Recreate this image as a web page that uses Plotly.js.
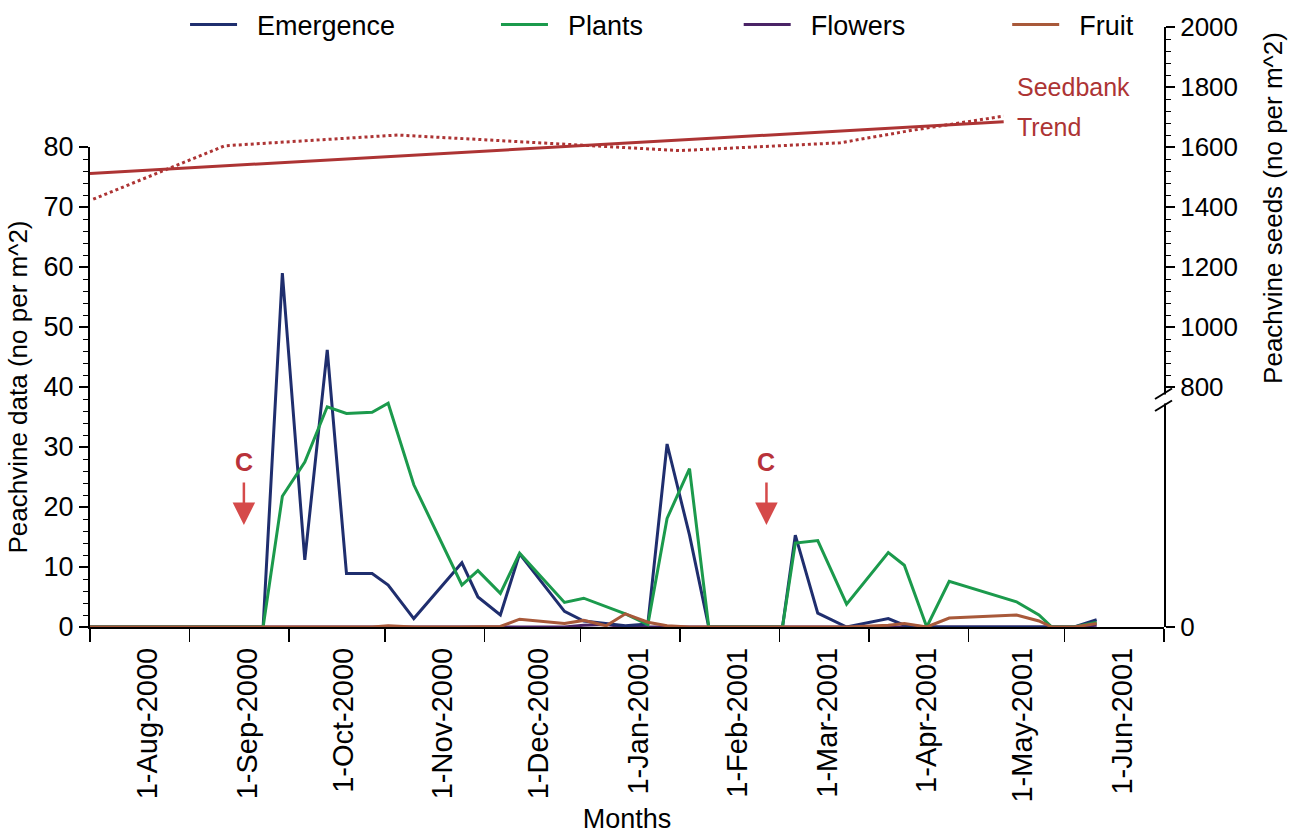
<!DOCTYPE html>
<html>
<head>
<meta charset="utf-8">
<script src="https://cdn.plot.ly/plotly-3.0.1.min.js"></script>
<style>html,body{margin:0;padding:0;background:#fff;}#chart{width:1297px;height:835px;}</style>
</head>
<body>
<div id="chart"></div>
<script>
// ---- data ----
var sampleDates = ['2000-07-01','2000-08-24','2000-08-30','2000-09-06','2000-09-13','2000-09-19','2000-09-27','2000-10-02','2000-10-10','2000-10-25','2000-10-30','2000-11-06','2000-11-12','2000-11-26','2000-12-02','2000-12-09','2000-12-15','2000-12-22','2000-12-28','2001-01-04','2001-01-10','2001-02-02','2001-02-06','2001-02-13','2001-02-22','2001-03-07','2001-03-12','2001-03-19','2001-03-26','2001-04-16','2001-04-23','2001-04-27','2001-05-04','2001-05-11'];
var emergence = [0,0,59,11.2,46.2,8.9,8.9,7,1.4,10.7,5,2,12.2,2.6,1,0.6,0.2,0.5,30.5,15.3,0,0,15.3,2.3,0,1.4,0.3,0,0,0,0,0,0,1.2];
var plants    = [0,0,21.8,27.5,36.7,35.6,35.8,37.3,23.7,7,9.4,5.6,12.3,4.1,4.8,3.4,2.2,0.4,18.1,26.4,0,0,14,14.4,3.8,12.4,10.3,0,7.6,4.2,2,0,0,0.8];
var flowers   = [0,0,0,0,0,0,0,0,0,0,0,0,0,0,0.3,0.4,0,0,0,0,0,0,0,0,0,0,0,0,0,0,0,0,0,0.3];
var fruit     = [0,0,0,0,0,0,0,0.2,0,0,0,0.1,1.3,0.6,1.1,0.2,2.2,0.8,0.2,0,0,0,0,0,0,0.3,0.6,0,1.5,2,1,0,0,0.6];

var seedbankDates = ['2000-07-02','2000-08-12','2000-10-05','2001-01-01','2001-02-20','2001-03-14','2001-04-12'];
var seedbank = [1426,1604,1640,1588,1614,1655,1703];
var trendDates = ['2000-07-01','2001-04-12'];
var trend = [1512,1684];

var cultivationDates = ['2000-08-18','2001-01-28'];

var monthTicks = ['2000-07-01','2000-08-01','2000-09-01','2000-10-01','2000-11-01','2000-12-01','2001-01-01','2001-02-01','2001-03-01','2001-04-01','2001-05-01','2001-06-01'];
var monthLabels = ['1-Aug-2000','1-Sep-2000','1-Oct-2000','1-Nov-2000','1-Dec-2000','1-Jan-2001','1-Feb-2001','1-Mar-2001','1-Apr-2001','1-May-2001','1-Jun-2001'];
var labelMonthStarts = monthTicks.slice(1);
var rightTicks = [0,800,1000,1200,1400,1600,1800,2000];

// ---- helpers ----
function shiftDays(d, n){ var t = new Date(d + 'T00:00:00Z'); t.setUTCDate(t.getUTCDate()+n); return t.toISOString().slice(0,10); }
var labelPositions = labelMonthStarts.map(function(d){ return shiftDays(d,-13); });
var rightMinor = [];
for (var v = 840; v < 2000; v += 40) { if (v % 200 !== 0) rightMinor.push(v); }

var FONT = 'Liberation Sans, Arial, sans-serif';
var RED = '#ad3434';
var SP = '\u00a0\u00a0';

var traces = [
  {x: sampleDates, y: flowers, name: SP + 'Flowers', mode: 'lines', line: {color: '#4a2366', width: 3}, legend: 'legend3', xaxis: 'x', yaxis: 'y'},
  {x: sampleDates, y: emergence, name: SP + 'Emergence', mode: 'lines', line: {color: '#1f2e6e', width: 3}, legend: 'legend', xaxis: 'x', yaxis: 'y'},
  {x: sampleDates, y: plants, name: SP + 'Plants', mode: 'lines', line: {color: '#1b9a4c', width: 3}, legend: 'legend2', xaxis: 'x', yaxis: 'y'},
  {x: sampleDates, y: fruit, name: SP + 'Fruit', mode: 'lines', line: {color: '#a8593a', width: 3}, legend: 'legend4', xaxis: 'x', yaxis: 'y'},
  {x: seedbankDates, y: seedbank, name: 'Seedbank', mode: 'lines', line: {color: RED, width: 3, dash: 'dot'}, showlegend: false, xaxis: 'x', yaxis: 'y2'},
  {x: trendDates, y: trend, name: 'Trend', mode: 'lines', line: {color: RED, width: 3}, showlegend: false, xaxis: 'x', yaxis: 'y2'},
  {x: [], y: [], xaxis: 'x2', yaxis: 'y', showlegend: false, hoverinfo: 'skip', mode: 'lines'}
];

function legendAt(xp){
  return {x: xp, y: 1.0033, xanchor: 'left', yanchor: 'middle', orientation: 'h',
          font: {family: FONT, size: 27, color: '#000'}, bgcolor: 'rgba(0,0,0,0)', itemwidth: 47};
}

var annotations = [
  {xref: 'paper', yref: 'y2', x: 0.861, y: 1800, xanchor: 'left', yanchor: 'middle', text: 'Seedbank', showarrow: false, font: {family: FONT, size: 25, color: RED}},
  {xref: 'paper', yref: 'y2', x: 0.861, y: 1667, xanchor: 'left', yanchor: 'middle', text: 'Trend', showarrow: false, font: {family: FONT, size: 25, color: RED}},
  {xref: 'paper', yref: 'y2', x: 1.1015, y: 1397, xanchor: 'center', yanchor: 'middle', textangle: -90, text: 'Peachvine seeds (no per m^2)', showarrow: false, font: {family: FONT, size: 26, color: '#000'}}
];
cultivationDates.forEach(function(d){
  annotations.push({xref: 'x', yref: 'y', x: d, y: 27.5, text: '<b>C</b>', showarrow: false, font: {family: FONT, size: 25, color: '#b8323a'}});
  annotations.push({xref: 'x', yref: 'y', x: d, y: 17, ax: 0, ay: -44, text: '', showarrow: true, arrowhead: 2, arrowsize: 1.8, arrowwidth: 2.5, arrowcolor: '#d54a4a', standoff: 0});
});

var shapes = [
  {type: 'rect', xref: 'paper', yref: 'y2', x0: 1 - 6/1074, x1: 1 + 6/1074, y0: 745, y1: 775, fillcolor: '#fff', line: {width: 0}, layer: 'above'},
  {type: 'line', xref: 'paper', yref: 'y2', x0: 1 - 9/1074, x1: 1 + 8/1074, y0: 720, y1: 755, line: {color: '#000', width: 2}, layer: 'above'},
  {type: 'line', xref: 'paper', yref: 'y2', x0: 1 - 9/1074, x1: 1 + 8/1074, y0: 760, y1: 795, line: {color: '#000', width: 2}, layer: 'above'}
];

var layout = {
  width: 1297, height: 835,
  margin: {l: 90, r: 133, t: 27, b: 208, autoexpand: false},
  paper_bgcolor: '#fff', plot_bgcolor: 'rgba(0,0,0,0)',
  font: {family: FONT, color: '#000'},
  legend: legendAt(0.0885),
  legend2: legendAt(0.378),
  legend3: legendAt(0.604),
  legend4: legendAt(0.854),
  xaxis: {type: 'date', range: ['2000-07-01', '2001-06-01'], domain: [0, 1], anchor: 'y',
          showline: true, linecolor: '#000', linewidth: 2, ticks: 'outside', ticklen: 13, tickwidth: 1.5, tickcolor: '#000',
          tickmode: 'array', tickvals: monthTicks, showticklabels: false, showgrid: false, zeroline: false},
  xaxis2: {type: 'date', overlaying: 'x', matches: 'x', anchor: 'y', side: 'bottom',
           tickmode: 'array', tickvals: labelPositions, ticktext: monthLabels, tickangle: -90, ticks: '',
           ticklabelstandoff: 14,
           tickfont: {family: FONT, size: 29, color: '#000'}, showline: false, showgrid: false, zeroline: false,
           title: {text: 'Months', font: {family: FONT, size: 27, color: '#000'}, standoff: 7}},
  yaxis: {domain: [0, 0.8], range: [0, 80], anchor: 'x', tickmode: 'linear', tick0: 0, dtick: 10,
          ticks: 'outside', ticklen: 9, tickwidth: 1.5, tickcolor: '#000', showline: true, linecolor: '#000', linewidth: 2,
          minor: {dtick: 2, ticks: 'outside', ticklen: 5, tickcolor: '#000', tickwidth: 1},
          tickfont: {family: FONT, size: 27, color: '#000'}, showgrid: false, zeroline: false,
          title: {text: 'Peachvine data (no per m^2)', font: {family: FONT, size: 26, color: '#000'}, standoff: 8}},
  yaxis2: {domain: [0, 1], range: [0, 2000], anchor: 'x', side: 'right', tickmode: 'array', tickvals: rightTicks,
           ticks: 'outside', ticklen: 9, tickwidth: 1.5, tickcolor: '#000', showline: true, linecolor: '#000', linewidth: 2,
           minor: {tickmode: 'array', tickvals: rightMinor, ticks: 'outside', ticklen: 5, tickcolor: '#000', tickwidth: 1},
           tickfont: {family: FONT, size: 26, color: '#000'}, showgrid: false, zeroline: false},
  annotations: annotations,
  shapes: shapes
};

Plotly.newPlot('chart', traces, layout, {displayModeBar: false, staticPlot: true});
</script>
</body>
</html>
